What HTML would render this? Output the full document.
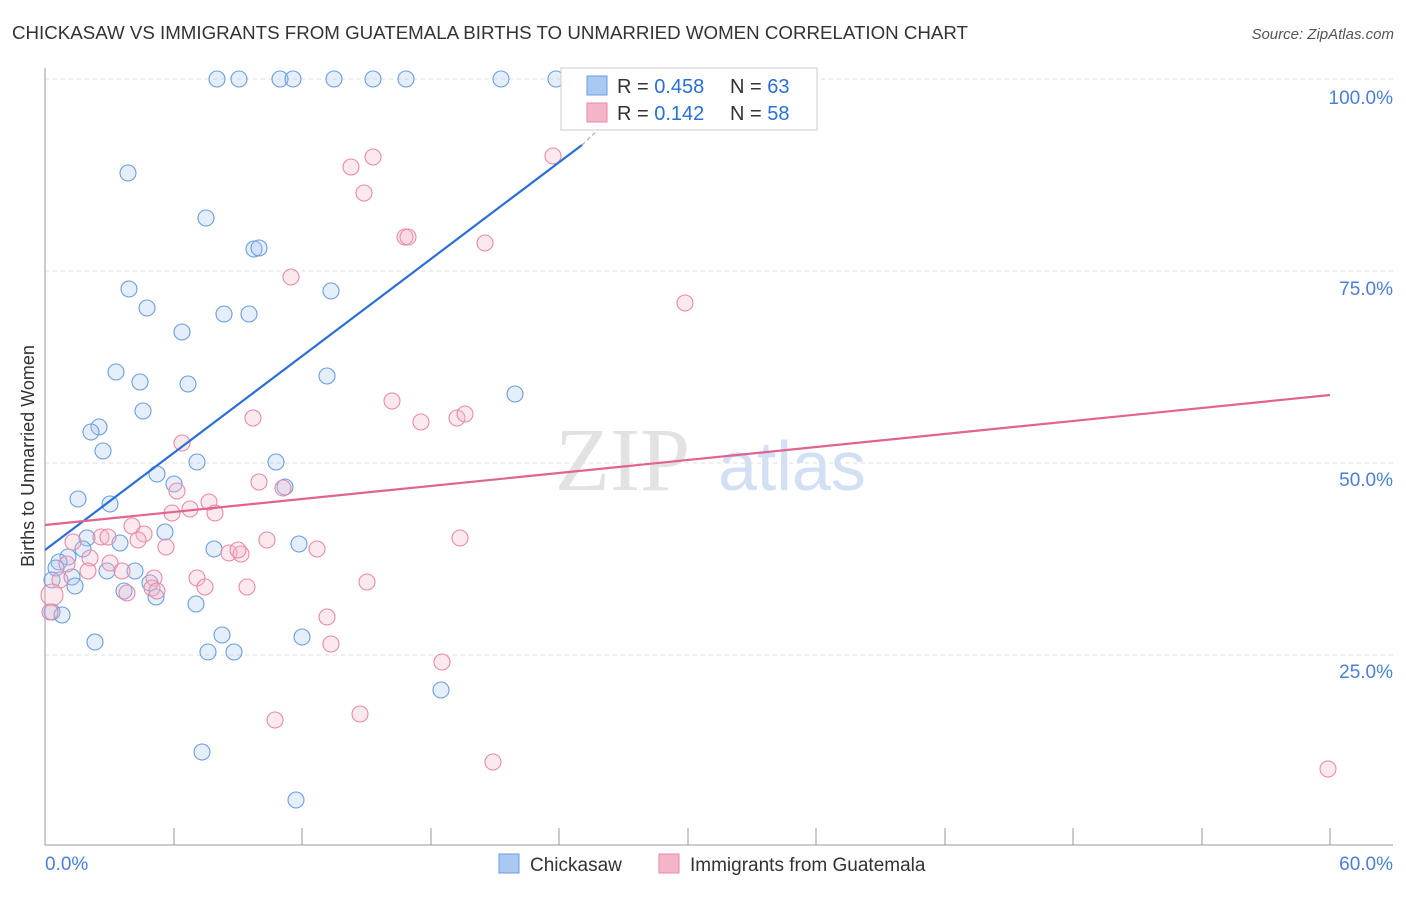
<!DOCTYPE html>
<html><head><meta charset="utf-8"><style>
body{margin:0;background:#fff;font-family:"Liberation Sans",sans-serif}
</style></head><body>
<svg width="1406" height="892" xmlns="http://www.w3.org/2000/svg" font-family="Liberation Sans, sans-serif">
<text x="12" y="39" font-size="18" fill="#333" textLength="956" lengthAdjust="spacingAndGlyphs">CHICKASAW VS IMMIGRANTS FROM GUATEMALA BIRTHS TO UNMARRIED WOMEN CORRELATION CHART</text>
<text x="1394" y="39" font-size="15" fill="#555" font-style="italic" text-anchor="end">Source: ZipAtlas.com</text>
<g stroke="#ddd" stroke-dasharray="4,4" stroke-width="1">
<line x1="45" y1="79" x2="1393" y2="79"/><line x1="45" y1="271" x2="1393" y2="271"/><line x1="45" y1="463" x2="1393" y2="463"/><line x1="45" y1="655" x2="1393" y2="655"/>
</g>
<line x1="45" y1="68" x2="45" y2="845" stroke="#999"/>
<line x1="45" y1="845" x2="1393" y2="845" stroke="#999"/>
<g stroke="#999"><line x1="174" y1="828" x2="174" y2="845"/><line x1="302" y1="828" x2="302" y2="845"/><line x1="431" y1="828" x2="431" y2="845"/><line x1="559" y1="828" x2="559" y2="845"/><line x1="688" y1="828" x2="688" y2="845"/><line x1="816" y1="828" x2="816" y2="845"/><line x1="945" y1="828" x2="945" y2="845"/><line x1="1073" y1="828" x2="1073" y2="845"/><line x1="1202" y1="828" x2="1202" y2="845"/><line x1="1330" y1="828" x2="1330" y2="845"/></g>
<g font-size="19" fill="#4a7fd8" text-anchor="end">
<text x="1393" y="104">100.0%</text><text x="1393" y="295">75.0%</text><text x="1393" y="486">50.0%</text><text x="1393" y="678">25.0%</text>
</g>
<text x="45" y="870" font-size="19" fill="#4a7fd8">0.0%</text>
<text x="1393" y="870" font-size="19" fill="#4a7fd8" text-anchor="end">60.0%</text>
<text transform="translate(34,456) rotate(-90)" font-size="18" fill="#333" text-anchor="middle">Births to Unmarried Women</text>
<text x="555" y="490" font-size="90" fill="#e2e2e2" font-family="Liberation Serif, serif">ZIP</text>
<text x="718" y="490" font-size="70" fill="#d3e0f3">atlas</text>
<g fill="#a9c8f2" fill-opacity="0.3" stroke="#6b9de0" stroke-width="1.1">
<circle cx="217" cy="79" r="8"/><circle cx="239" cy="79" r="8"/><circle cx="280" cy="79" r="8"/><circle cx="293" cy="79" r="8"/><circle cx="334" cy="79" r="8"/><circle cx="373" cy="79" r="8"/><circle cx="406" cy="79" r="8"/><circle cx="501" cy="79" r="8"/><circle cx="556" cy="79" r="8"/>
<circle cx="128" cy="173" r="8"/><circle cx="206" cy="218" r="8"/><circle cx="254" cy="249" r="8"/><circle cx="259" cy="248" r="8"/><circle cx="129" cy="289" r="8"/><circle cx="147" cy="308" r="8"/><circle cx="331" cy="291" r="8"/><circle cx="182" cy="332" r="8"/><circle cx="224" cy="314" r="8"/><circle cx="249" cy="314" r="8"/><circle cx="116" cy="372" r="8"/><circle cx="140" cy="382" r="8"/><circle cx="188" cy="384" r="8"/><circle cx="327" cy="376" r="8"/><circle cx="515" cy="394" r="8"/><circle cx="143" cy="411" r="8"/><circle cx="99" cy="427" r="8"/><circle cx="91" cy="432" r="8"/><circle cx="103" cy="451" r="8"/><circle cx="157" cy="474" r="8"/><circle cx="197" cy="462" r="8"/><circle cx="276" cy="462" r="8"/><circle cx="174" cy="484" r="8"/><circle cx="285" cy="487" r="8"/><circle cx="78" cy="499" r="8"/><circle cx="110" cy="504" r="8"/><circle cx="165" cy="532" r="8"/><circle cx="87" cy="538" r="8"/><circle cx="120" cy="543" r="8"/><circle cx="83" cy="549" r="8"/><circle cx="68" cy="557" r="8"/><circle cx="59" cy="562" r="8"/><circle cx="56" cy="568" r="8"/><circle cx="72" cy="577" r="8"/><circle cx="75" cy="586" r="8"/><circle cx="107" cy="571" r="8"/><circle cx="135" cy="571" r="8"/><circle cx="214" cy="549" r="8"/><circle cx="299" cy="544" r="8"/><circle cx="124" cy="591" r="8"/><circle cx="150" cy="583" r="8"/><circle cx="156" cy="597" r="8"/><circle cx="196" cy="604" r="8"/><circle cx="52" cy="612" r="8"/><circle cx="62" cy="615" r="8"/><circle cx="95" cy="642" r="8"/><circle cx="222" cy="635" r="8"/><circle cx="302" cy="637" r="8"/><circle cx="208" cy="652" r="8"/><circle cx="234" cy="652" r="8"/><circle cx="441" cy="690" r="8"/><circle cx="202" cy="752" r="8"/><circle cx="296" cy="800" r="8"/><circle cx="52" cy="580" r="8"/>
</g>
<g fill="#f5b5c8" fill-opacity="0.3" stroke="#e88aa6" stroke-width="1.1">
<circle cx="351" cy="167" r="8"/><circle cx="373" cy="157" r="8"/><circle cx="553" cy="156" r="8"/><circle cx="364" cy="193" r="8"/><circle cx="405" cy="237" r="8"/><circle cx="408" cy="237" r="8"/><circle cx="485" cy="243" r="8"/><circle cx="291" cy="277" r="8"/><circle cx="685" cy="303" r="8"/><circle cx="392" cy="401" r="8"/><circle cx="253" cy="418" r="8"/><circle cx="421" cy="422" r="8"/><circle cx="457" cy="418" r="8"/><circle cx="465" cy="414" r="8"/><circle cx="182" cy="443" r="8"/><circle cx="177" cy="491" r="8"/><circle cx="209" cy="502" r="8"/><circle cx="259" cy="482" r="8"/><circle cx="283" cy="488" r="8"/><circle cx="190" cy="509" r="8"/><circle cx="172" cy="513" r="8"/><circle cx="215" cy="513" r="8"/><circle cx="132" cy="526" r="8"/><circle cx="144" cy="534" r="8"/><circle cx="101" cy="537" r="8"/><circle cx="108" cy="537" r="8"/><circle cx="138" cy="540" r="8"/><circle cx="166" cy="547" r="8"/><circle cx="73" cy="542" r="8"/><circle cx="90" cy="558" r="8"/><circle cx="110" cy="563" r="8"/><circle cx="122" cy="571" r="8"/><circle cx="88" cy="571" r="8"/><circle cx="67" cy="564" r="8"/><circle cx="60" cy="580" r="8"/><circle cx="154" cy="578" r="8"/><circle cx="197" cy="578" r="8"/><circle cx="205" cy="587" r="8"/><circle cx="229" cy="553" r="8"/><circle cx="241" cy="554" r="8"/><circle cx="238" cy="550" r="8"/><circle cx="267" cy="540" r="8"/><circle cx="317" cy="549" r="8"/><circle cx="460" cy="538" r="8"/><circle cx="152" cy="588" r="8"/><circle cx="127" cy="593" r="8"/><circle cx="157" cy="591" r="8"/><circle cx="247" cy="587" r="8"/><circle cx="367" cy="582" r="8"/><circle cx="327" cy="617" r="8"/><circle cx="331" cy="644" r="8"/><circle cx="442" cy="662" r="8"/><circle cx="360" cy="714" r="8"/><circle cx="275" cy="720" r="8"/><circle cx="493" cy="762" r="8"/><circle cx="1328" cy="769" r="8"/><circle cx="52" cy="595" r="11"/><circle cx="50" cy="612" r="8"/>
</g>
<line x1="45" y1="550" x2="582" y2="145" stroke="#2a6fd6" stroke-width="2.2"/>
<line x1="582" y1="145" x2="630" y2="100" stroke="#aac" stroke-width="1.2" stroke-dasharray="4,3"/>
<line x1="45" y1="525" x2="1330" y2="395" stroke="#e0648f" stroke-width="2.2"/>
<rect x="561" y="68" width="256" height="62" fill="#fff" stroke="#ccc"/>
<rect x="587" y="76" width="20" height="19" fill="#a9c8f2" stroke="#6b9de0"/>
<rect x="587" y="103" width="20" height="19" fill="#f5b5c8" stroke="#e88aa6"/>
<g font-size="20">
<text x="617" y="93" fill="#333">R = <tspan fill="#2a6fd6">0.458</tspan></text>
<text x="730" y="93" fill="#333">N = <tspan fill="#2a6fd6">63</tspan></text>
<text x="617" y="120" fill="#333">R = <tspan fill="#2a6fd6"> 0.142</tspan></text>
<text x="730" y="120" fill="#333">N = <tspan fill="#2a6fd6">58</tspan></text>
</g>
<rect x="499" y="854" width="20" height="19" fill="#a9c8f2" stroke="#6b9de0"/>
<text x="530" y="871" font-size="19" fill="#333">Chickasaw</text>
<rect x="659" y="854" width="20" height="19" fill="#f5b5c8" stroke="#e88aa6"/>
<text x="690" y="871" font-size="19" fill="#333">Immigrants from Guatemala</text>
</svg>
</body></html>
